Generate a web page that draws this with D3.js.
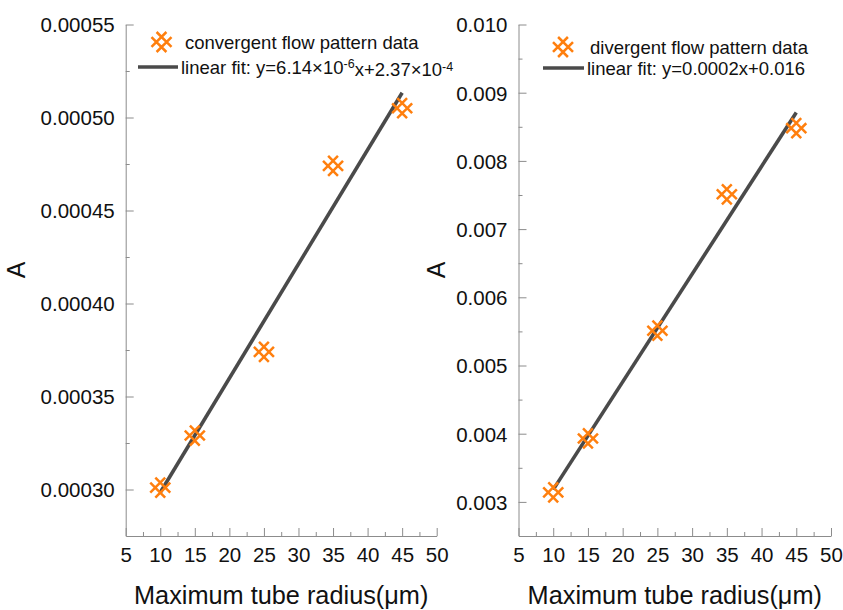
<!DOCTYPE html>
<html>
<head>
<meta charset="utf-8">
<script src="https://cdn.jsdelivr.net/npm/d3@7"></script>
<style>
  html, body { margin: 0; padding: 0; background: #fff; }
  svg { display: block; font-family: "Liberation Sans", Arial, sans-serif; }
</style>
</head>
<body>
<svg id="chart" width="843" height="610"></svg>
<script>
// Tube radius (µm) at which A was measured
const radius = [10, 15, 25, 35, 45];

// Convergent flow pattern
const convergentA = [0.000301, 0.000329, 0.000374, 0.000474, 0.000505];
const convergentFit = { slope: 6.14e-6, intercept: 2.37e-4 };
const convergentYTicks = [0.00030, 0.00035, 0.00040, 0.00045, 0.00050, 0.00055];
const convergentYMinor = [0.000325, 0.000375, 0.000425, 0.000475, 0.000525];

// Divergent flow pattern
const divergentA = [0.00314, 0.00393, 0.00551, 0.00751, 0.00848];
const divergentFit = { slope: 0.000158, intercept: 0.00160 };
const divergentYTicks = [0.003, 0.004, 0.005, 0.006, 0.007, 0.008, 0.009, 0.010];
const divergentYMinor = [0.0035, 0.0045, 0.0055, 0.0065, 0.0075, 0.0085, 0.0095];

const xTicks = [5, 10, 15, 20, 25, 30, 35, 40, 45, 50];
const xMinor = [7.5, 12.5, 17.5, 22.5, 27.5, 32.5, 37.5, 42.5, 47.5];

const svg = d3.select("#chart");
const AXIS = "#8c8c8c", ORANGE = "#ff7f0e", FIT = "#4a4a4a";

// Lattice marker: two parallel strokes in each diagonal direction, clipped to a square
function latticePath(s, d) {
  const c = d * Math.SQRT2;
  const p = d3.path();
  [c, -c].forEach(k => {
    if (k > 0) { p.moveTo(-s + k, -s); p.lineTo(s, s - k); }
    else { p.moveTo(-s, -s - k); p.lineTo(s + k, s); }
    if (k > 0) { p.moveTo(k - s, s); p.lineTo(s, k - s); }
    else { p.moveTo(-s, k + s); p.lineTo(k + s, -s); }
  });
  return p.toString();
}
const markerD = latticePath(10, 3.6);

function panel(cfg) {
  const x = d3.scaleLinear().domain([5, 50]).range([cfg.left, cfg.right]);
  const y = d3.scaleLinear().domain(cfg.yDomain).range([536, 24.5]);
  const g = svg.append("g");

  // y axis, inward ticks
  const ya = g.append("g").attr("transform", `translate(${cfg.left},0)`)
    .call(d3.axisLeft(y).tickValues(cfg.yTicks).tickFormat(cfg.fmt)
      .tickSizeInner(-8).tickSizeOuter(0).tickPadding(11));
  g.append("g").attr("transform", `translate(${cfg.left},0)`)
    .call(d3.axisLeft(y).tickValues(cfg.yMinor).tickFormat("")
      .tickSizeInner(-4).tickSizeOuter(0))
    .select(".domain").remove();

  // x axis, inward ticks
  g.append("g").attr("transform", "translate(0,536)")
    .call(d3.axisBottom(x).tickValues(xTicks).tickFormat(d3.format("d"))
      .tickSizeInner(-8).tickSizeOuter(0).tickPadding(11));
  g.append("g").attr("transform", "translate(0,536)")
    .call(d3.axisBottom(x).tickValues(xMinor).tickFormat("")
      .tickSizeInner(-4).tickSizeOuter(0))
    .select(".domain").remove();

  g.selectAll(".domain, .tick line").attr("stroke", AXIS).attr("stroke-width", 1);
  g.selectAll(".tick text").attr("fill", "#111").style("font-size", "20.5px")
    .style("font-family", '"Liberation Sans", Arial, sans-serif');
  ya.selectAll(".tick text").attr("dy", "0.36em");

  // axis titles
  g.append("text")
    .attr("x", (cfg.left + cfg.right) / 2).attr("y", 604)
    .attr("text-anchor", "middle").style("font-size", "25.3px").attr("fill", "#111")
    .text("Maximum tube radius(μm)");
  g.append("text")
    .attr("transform", `translate(${cfg.titleX},270) rotate(-90)`)
    .attr("text-anchor", "middle").style("font-size", "25px").attr("fill", "#111")
    .text("A");

  // fitted line
  const fx = [radius[0], radius[radius.length - 1]];
  g.append("line")
    .attr("x1", x(fx[0])).attr("y1", y(cfg.fit.slope * fx[0] + cfg.fit.intercept))
    .attr("x2", x(fx[1])).attr("y2", y(cfg.fit.slope * fx[1] + cfg.fit.intercept))
    .attr("stroke", FIT).attr("stroke-width", 3.6);

  // data markers
  g.selectAll("path.pt").data(radius).join("path")
    .attr("class", "pt")
    .attr("d", markerD)
    .attr("transform", (d, i) => `translate(${x(d)},${y(cfg.values[i])})`)
    .attr("fill", "none").attr("stroke", ORANGE).attr("stroke-width", 2.5);

  // legend
  const lg = g.append("g");
  lg.append("path").attr("d", markerD)
    .attr("transform", `translate(${cfg.leg.mx},${cfg.leg.my})`)
    .attr("fill", "none").attr("stroke", ORANGE).attr("stroke-width", 2.5);
  lg.append("text").attr("x", cfg.leg.tx).attr("y", cfg.leg.my + 6.5)
    .style("font-size", "18.5px").attr("fill", "#111").text(cfg.leg.dataLabel);
  lg.append("line")
    .attr("x1", cfg.leg.lx1).attr("x2", cfg.leg.lx2)
    .attr("y1", cfg.leg.ly).attr("y2", cfg.leg.ly)
    .attr("stroke", FIT).attr("stroke-width", 3.6);
  const ft = lg.append("text").attr("x", cfg.leg.lx2 + 3).attr("y", cfg.leg.ly + 6.5)
    .style("font-size", "18.5px").attr("fill", "#111");
  cfg.leg.fitLabel.forEach(part => {
    const t = ft.append("tspan").text(part.t);
    if (part.sup) t.attr("dy", "-0.45em").style("font-size", "12.5px");
    if (part.down) t.attr("dy", "0.45em");
  });
}

panel({
  left: 125.7, right: 436.7,
  yDomain: [0.000275, 0.00055],
  yTicks: convergentYTicks, yMinor: convergentYMinor,
  fmt: d3.format(".5f"),
  values: convergentA, fit: convergentFit,
  titleX: 25,
  leg: {
    mx: 161.5, my: 42, tx: 185,
    lx1: 138, lx2: 178, ly: 67,
    dataLabel: "convergent flow pattern data",
    fitLabel: [
      { t: "linear fit: y=6.14×10" }, { t: "-6", sup: true },
      { t: "x+2.37×10", down: true }, { t: "-4", sup: true }
    ]
  }
});

panel({
  left: 518.5, right: 831,
  yDomain: [0.0025, 0.010],
  yTicks: divergentYTicks, yMinor: divergentYMinor,
  fmt: d3.format(".3f"),
  values: divergentA, fit: divergentFit,
  titleX: 445,
  leg: {
    mx: 563, my: 47, tx: 590,
    lx1: 543, lx2: 584, ly: 68,
    dataLabel: "divergent flow pattern data",
    fitLabel: [{ t: "linear fit: y=0.0002x+0.016" }]
  }
});
</script>
</body>
</html>
